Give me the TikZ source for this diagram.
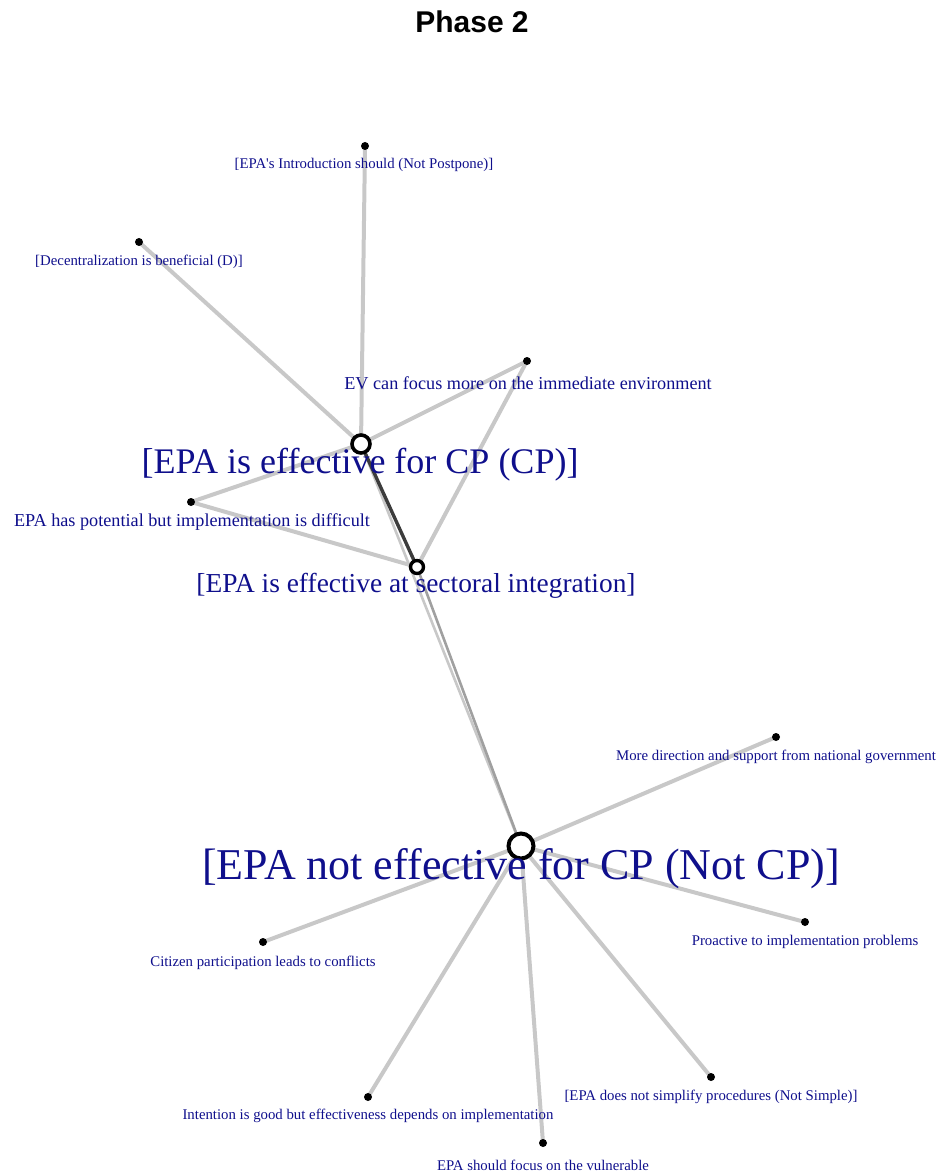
\documentclass[tikz,border=0pt]{standalone}
\usepackage{fontspec}
\setmainfont{Liberation Serif}
\newfontfamily\titlefont{Liberation Sans}
\usetikzlibrary{calc}
\definecolor{labblue}{RGB}{15,15,140}
\definecolor{edgegray}{RGB}{200,200,200}
\definecolor{midgray}{RGB}{160,160,160}
\definecolor{darkedge}{RGB}{60,60,60}
\pgfdeclarelayer{bg}
\pgfsetlayers{bg,main}
\tikzset{
  dot/.style={circle, fill=black, inner sep=0pt, minimum size=8pt},
  hub/.style={circle, draw=black, fill=white, line width=3.6pt, inner sep=0pt},
  edge/.style={draw=edgegray, line width=4pt},
  thinedge/.style={draw=edgegray, line width=2.6pt},
  midedge/.style={draw=midgray, line width=2.6pt},
  strongedge/.style={draw=darkedge, line width=3.4pt},
  lab/.style={text=labblue, inner sep=0pt, anchor=center},
  small/.style={lab, font=\fontsize{14.8}{16}\selectfont},
  medium/.style={lab, font=\fontsize{18.2}{20}\selectfont},
}
\begin{document}
\begin{tikzpicture}[x=1pt, y=-1pt]
\path[use as bounding box] (0,0) rectangle (938,1174);
% title
\node[font=\titlefont\bfseries\fontsize{30}{32}\selectfont, inner sep=0pt] (title) at (472,22) {Phase 2};
% vertices
\node[dot] (P) at (365,146) {};
\node[dot] (D) at (139,242) {};
\node[dot] (EV) at (527,361) {};
\node[hub, minimum size=18pt] (CP) at (361,444) {};
\node[dot] (EH) at (191,502) {};
\node[hub, minimum size=13pt, line width=3.4pt] (SI) at (417,567) {};
\node[dot] (MD) at (776,737) {};
\node[hub, minimum size=25pt, line width=4pt] (NCP) at (521,846) {};
\node[dot] (CI) at (263,942) {};
\node[dot] (PR) at (805,922) {};
\node[dot] (IN) at (368,1097) {};
\node[dot] (FV) at (543,1143) {};
\node[dot] (NS) at (711,1077) {};
% edges
\begin{pgfonlayer}{bg}
\draw[edge] (CP.center) -- (P.center);
\draw[edge] (CP.center) -- (D.center);
\draw[edge] (CP.center) -- (EV.center);
\draw[edge] (CP.center) -- (EH.center);
\draw[edge] (SI.center) -- (EV.center);
\draw[edge] (SI.center) -- (EH.center);
\draw[thinedge] (CP.center) -- (NCP.center);
\draw[midedge] (SI.center) -- (NCP.center);
\draw[strongedge] (CP.center) -- (SI.center);
\draw[edge] (NCP.center) -- (MD.center);
\draw[edge] (NCP.center) -- (CI.center);
\draw[edge] (NCP.center) -- (PR.center);
\draw[edge] (NCP.center) -- (IN.center);
\draw[edge] (NCP.center) -- (FV.center);
\draw[edge] (NCP.center) -- (NS.center);
\end{pgfonlayer}
% labels
\node[small] (P-l) at ($(P)+(-1,19)$) {[EPA\textquotesingle s Introduction should (Not Postpone)]};
\node[small] (D-l) at ($(D)+(0,20)$) {[Decentralization is beneficial (D)]};
\node[medium] (EV-l) at ($(EV)+(1,22)$) {EV can focus more on the immediate environment};
\node[lab, font=\fontsize{36}{38}\selectfont] (CP-l) at ($(CP)+(-1,21)$) {[EPA is effective for CP (CP)]};
\node[medium] (EH-l) at ($(EH)+(1,20)$) {EPA has potential but implementation is difficult};
\node[lab, font=\fontsize{27.4}{30}\selectfont] (SI-l) at ($(SI)+(-1,19)$) {[EPA is effective at sectoral integration]};
\node[small] (MD-l) at ($(MD)+(0,20)$) {More direction and support from national government};
\node[lab, font=\fontsize{44}{46}\selectfont] (NCP-l) at ($(NCP)+(0,23)$) {[EPA not effective for CP (Not CP)]};
\node[small] (CI-l) at ($(CI)+(0,21)$) {Citizen participation leads to conflicts};
\node[small] (PR-l) at ($(PR)+(0,20)$) {Proactive to implementation problems};
\node[small] (IN-l) at ($(IN)+(0,19)$) {Intention is good but effectiveness depends on implementation};
\node[small] (FV-l) at ($(FV)+(0,22)$) {EPA should focus on the vulnerable};
\node[small] (NS-l) at ($(NS)+(0,20)$) {[EPA does not simplify procedures (Not Simple)]};
\end{tikzpicture}
\end{document}
